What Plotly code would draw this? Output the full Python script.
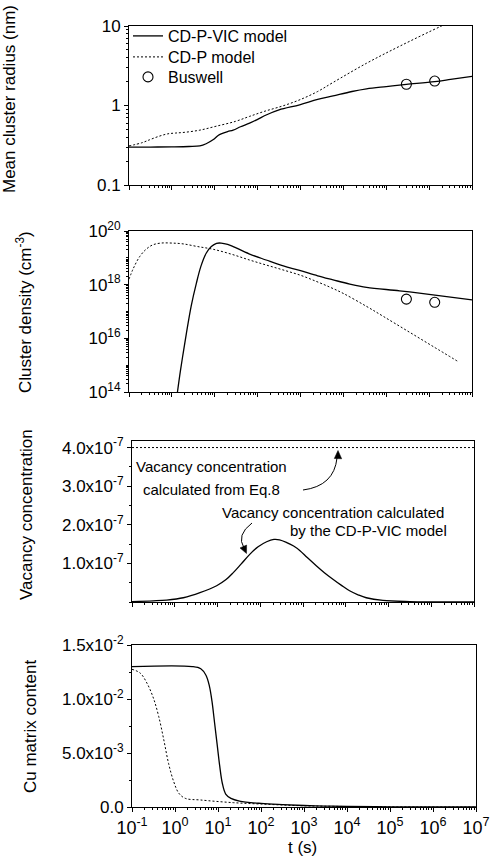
import plotly.graph_objects as go

W, H = 496, 861
FONT = "Liberation Sans, Arial, sans-serif"

# ---------------- data ----------------
# Panel 1: mean cluster radius (nm)
t_r_vic = [0.1, 0.316, 1.0, 2.5, 4.5, 6.3, 9.1, 12.0, 14.1, 20.0, 26.9, 40.0, 65.0, 100.0, 158.0, 316.0,
           955.0, 2512.0, 5754.0, 15850.0, 34670.0, 1.0e5, 2.95e5, 1.35e6, 3.16e6, 1.0e7]
r_vic = [0.300, 0.300, 0.302, 0.305, 0.31, 0.33, 0.37, 0.42, 0.44, 0.47, 0.49, 0.54, 0.60, 0.67, 0.76, 0.88,
         1.02, 1.19, 1.32, 1.50, 1.62, 1.73, 1.84, 2.00, 2.13, 2.33]
t_r_cdp = [0.1, 0.2, 0.3, 0.5, 0.8, 1.2, 2.0, 4.5, 11.0, 30.0, 65.0, 150.0, 390.0, 1000.0, 2512.0,
           5754.0, 34670.0, 2.1e5, 1.95e6, 5.0e6]
r_cdp = [0.31, 0.34, 0.37, 0.41, 0.44, 0.45, 0.46, 0.49, 0.55, 0.63, 0.73, 0.85, 0.99, 1.19, 1.5,
         1.95, 3.4, 5.6, 10.0, 12.5]
t_busw = [2.95e5, 1.35e6]
r_busw = [1.85, 2.03]

# Panel 2: cluster density (cm^-3)
t_n_vic = [1.35, 1.585, 1.86, 2.19, 2.82, 3.72, 4.79, 6.31, 8.32, 11.0, 14.1, 20.0, 26.9, 63.1, 158.0,
           398.0, 955.0, 2512.0, 5754.0, 14125.0, 34674.0, 204174.0, 1.23e6, 1.0e7]
n_vic = [1e14, 6.3e14, 3.2e15, 1.6e16, 1.6e17, 1.12e18, 5.0e18, 1.48e19, 2.63e19, 3.47e19, 3.55e19,
         3.16e19, 2.63e19, 1.41e19, 8.3e18, 5.0e18, 3.4e18, 2.14e18, 1.51e18, 1.05e18, 7.9e17,
         5.9e17, 4.2e17, 2.7e17]
t_n_cdp = [0.1, 0.126, 0.178, 0.251, 0.355, 0.562, 1.0, 1.82, 3.98, 9.12, 25.1, 64.6, 158.0, 389.0,
           1000.0, 2344.0, 5012.0, 10000.0, 34674.0, 85114.0, 309030.0, 1.23e6, 4.68e6]
n_cdp = [1.6e18, 4.0e18, 1.12e19, 2.09e19, 3.02e19, 3.55e19, 3.55e19, 3.31e19, 2.63e19, 2.09e19,
         1.35e19, 8.3e18, 5.4e18, 3.55e18, 2.24e18, 1.32e18, 7.9e17, 4.7e17, 1.55e17, 6.6e16,
         1.9e16, 5.0e15, 1.38e15]
n_busw = [2.9e17, 2.2e17]

# Panel 3: vacancy concentration
t_v = [0.1, 0.316, 0.646, 1.585, 3.89, 9.55, 15.85, 23.4, 35.5, 57.5, 89.1, 141.0, 209.0, 282.0, 417.0,
       603.0, 851.0, 1259.0, 2042.0, 3162.0, 5012.0, 7943.0, 12300.0, 19950.0, 30200.0, 74130.0,
       316000.0, 1.0e6, 1.0e7]
c_v = [0.01e-7, 0.03e-7, 0.05e-7, 0.11e-7, 0.24e-7, 0.42e-7, 0.58e-7, 0.76e-7, 0.98e-7, 1.24e-7,
       1.43e-7, 1.56e-7, 1.62e-7, 1.61e-7, 1.54e-7, 1.45e-7, 1.33e-7, 1.15e-7, 0.94e-7, 0.76e-7,
       0.59e-7, 0.43e-7, 0.29e-7, 0.18e-7, 0.11e-7, 0.04e-7, 0.01e-7, 0.003e-7, 0.0]
t_eq8 = [0.1, 1.0e7]
c_eq8 = [4.0e-7, 4.0e-7]

# Panel 4: Cu matrix content
t_cu_vic = [0.1, 2.5, 3.98, 5.25, 6.31, 7.24, 8.32, 9.55, 10.96, 12.6, 15.1, 20.0, 31.6, 100.0, 316.0,
            1000.0, 3162.0, 10000.0, 1.0e5, 1.0e6, 1.0e7]
cu_vic = [0.0130, 0.0130, 0.0128, 0.0122, 0.0112, 0.0098, 0.0078, 0.0058, 0.0038, 0.0022, 0.0012,
          0.0008, 0.00055, 0.00033, 0.00022, 0.00014, 0.00009, 0.00005, 0.00002, 0.00001, 0.000005]
t_cu_cdp = [0.1, 0.155, 0.224, 0.316, 0.417, 0.55, 0.708, 0.933, 1.23, 1.74, 3.89, 22.9, 138.0,
            813.0, 4898.0, 1.0e5, 1.0e7]
cu_cdp = [0.01275, 0.0124, 0.01145, 0.01006, 0.0084, 0.0062, 0.00404, 0.00235, 0.00127, 0.0008,
          0.00065, 0.0004, 0.00025, 0.00012, 0.00006, 0.00001, 0.0]

x_tickvals = [0.1, 1.0, 10.0, 100.0, 1e3, 1e4, 1e5, 1e6, 1e7]
x_ticktext = ["10<sup>-1</sup>", "10<sup>0</sup>", "10<sup>1</sup>", "10<sup>2</sup>", "10<sup>3</sup>",
              "10<sup>4</sup>", "10<sup>5</sup>", "10<sup>6</sup>", "10<sup>7</sup>"]

# ---------------- figure ----------------
def px_x(p):
    return p / W

def px_y(p):
    return 1 - p / H

doms = {
    1: ((129, 472), (26, 185)),
    2: ((129, 472), (231, 392)),
    3: ((132, 474), (441, 602)),
    4: ((132, 476), (645, 807)),
}

fig = go.Figure()
solid = dict(color="black", width=1.3)
dotted = dict(color="black", width=1, dash="2px,2px")
circ = dict(symbol="circle-open", size=10, color="black", line=dict(width=1.1, color="black"))

fig.add_trace(go.Scatter(x=t_r_vic, y=r_vic, mode="lines", line=solid, name="CD-P-VIC model",
                         line_shape="spline", xaxis="x", yaxis="y", legend="legend"))
fig.add_trace(go.Scatter(x=t_r_cdp, y=r_cdp, mode="lines", line=dotted, name="CD-P model",
                         line_shape="spline", xaxis="x", yaxis="y", legend="legend2"))
fig.add_trace(go.Scatter(x=t_busw, y=r_busw, mode="markers", marker=circ, name="Buswell",
                         xaxis="x", yaxis="y", legend="legend3"))

fig.add_trace(go.Scatter(x=t_n_vic, y=n_vic, mode="lines", line=solid, showlegend=False,
                         line_shape="spline", xaxis="x2", yaxis="y2"))
fig.add_trace(go.Scatter(x=t_n_cdp, y=n_cdp, mode="lines", line=dotted, showlegend=False,
                         line_shape="spline", xaxis="x2", yaxis="y2"))
fig.add_trace(go.Scatter(x=t_busw, y=n_busw, mode="markers", marker=circ, showlegend=False,
                         xaxis="x2", yaxis="y2"))

fig.add_trace(go.Scatter(x=t_eq8, y=c_eq8, mode="lines", line=dotted, showlegend=False,
                         xaxis="x3", yaxis="y3"))
fig.add_trace(go.Scatter(x=t_v, y=c_v, mode="lines", line=solid, showlegend=False,
                         line_shape="spline", xaxis="x3", yaxis="y3"))

fig.add_trace(go.Scatter(x=t_cu_vic, y=cu_vic, mode="lines", line=solid, showlegend=False,
                         line_shape="spline", xaxis="x4", yaxis="y4"))
fig.add_trace(go.Scatter(x=t_cu_cdp, y=cu_cdp, mode="lines", line=dotted, showlegend=False,
                         line_shape="spline", xaxis="x4", yaxis="y4"))

minor_x = [m * 10.0 ** e for e in range(-1, 7) for m in range(2, 10)]
axis_common = dict(showline=True, linecolor="black", linewidth=1, mirror=True, showgrid=False,
                   zeroline=False, ticks="outside", ticklen=4, tickwidth=1, tickcolor="black",
                   tickfont=dict(family=FONT, size=17, color="black"), automargin=False)

layout = dict(width=W, height=H, margin=dict(l=0, r=0, t=0, b=0),
              paper_bgcolor="white", plot_bgcolor="white",
              font=dict(family=FONT, color="black"))

for i in range(1, 5):
    (xa, xb), (ya, yb) = doms[i]
    xk = "xaxis" if i == 1 else f"xaxis{i}"
    yk = "yaxis" if i == 1 else f"yaxis{i}"
    xax = dict(axis_common, type="log", range=[-1, 7], domain=[px_x(xa), px_x(xb)],
               anchor="y" if i == 1 else f"y{i}", tickmode="array", tickvals=x_tickvals,
               ticktext=x_ticktext, showticklabels=(i == 4),
               minor=dict(tickvals=minor_x, ticks="outside", ticklen=2, tickcolor="black"))
    xax["tickfont"] = dict(family=FONT, size=18, color="black")
    layout[xk] = xax
    layout[yk] = dict(axis_common, domain=[px_y(yb), px_y(ya)], anchor="x" if i == 1 else f"x{i}")

minor_y1 = [m * 10.0 ** e for e in range(-1, 1) for m in range(2, 10)]
layout["yaxis"].update(type="log", range=[-1, 1], tickmode="array", tickvals=[0.1, 1.0, 10.0],
                       ticktext=["0.1", "1", "10"],
                       minor=dict(tickvals=minor_y1, ticks="outside", ticklen=2, tickcolor="black"))
minor_y2 = [m * 10.0 ** e for e in range(14, 20) for m in range(2, 11)]
layout["yaxis2"].update(type="log", range=[14, 20], tickmode="array",
                        tickvals=[1e14, 1e16, 1e18, 1e20],
                        ticktext=["10<sup>14</sup>", "10<sup>16</sup>", "10<sup>18</sup>", "10<sup>20</sup>"],
                        minor=dict(tickvals=minor_y2, ticks="outside", ticklen=2, tickcolor="black"))
layout["yaxis3"].update(range=[0, 4.17e-7], tickmode="array",
                        tickvals=[1e-7, 2e-7, 3e-7, 4e-7],
                        ticktext=["1.0x10<sup>-7</sup>", "2.0x10<sup>-7</sup>", "3.0x10<sup>-7</sup>",
                                  "4.0x10<sup>-7</sup>"],
                        minor=dict(dtick=0.5e-7, ticks="outside", ticklen=2, tickcolor="black"))
layout["yaxis4"].update(range=[0, 0.015], tickmode="array", tickvals=[0, 0.005, 0.01, 0.015],
                        ticktext=["0.0", "5.0x10<sup>-3</sup>", "1.0x10<sup>-2</sup>", "1.5x10<sup>-2</sup>"],
                        minor=dict(dtick=0.0025, ticks="outside", ticklen=2, tickcolor="black"))

lfont = dict(family=FONT, size=16, color="black")
for key, row in (("legend", 36), ("legend2", 57), ("legend3", 77)):
    layout[key] = dict(x=px_x(128), y=px_y(row), xanchor="left", yanchor="middle",
                       bgcolor="rgba(0,0,0,0)", font=lfont, itemwidth=30)
fig.update_layout(**layout)

# y-axis titles
ytitles = [("Mean cluster radius (nm)", 10, 99), ("Cluster density (cm<sup>-3</sup>)", 24, 312),
           ("Vacancy concentration", 26, 515), ("Cu matrix content", 30, 727)]
for txt, xp, yp in ytitles:
    fig.add_annotation(text=txt, xref="paper", yref="paper", x=px_x(xp), y=px_y(yp), showarrow=False,
                       textangle=-90, xanchor="center", yanchor="middle",
                       font=dict(family=FONT, size=17, color="black"))
fig.add_annotation(text="t (s)", xref="paper", yref="paper", x=px_x(302), y=px_y(847), showarrow=False,
                   xanchor="center", yanchor="middle", font=dict(family=FONT, size=17, color="black"))

# panel 3 annotations
afont = dict(family=FONT, size=15, color="black")
fig.add_annotation(text="Vacancy concentration", xref="paper", yref="paper", x=px_x(211), y=px_y(466),
                   showarrow=False, xanchor="center", yanchor="middle", font=afont)
fig.add_annotation(text="calculated from Eq.8", xref="paper", yref="paper", x=px_x(211), y=px_y(489),
                   showarrow=False, xanchor="center", yanchor="middle", font=afont)
fig.add_annotation(text="Vacancy concentration calculated", xref="paper", yref="paper", x=px_x(446),
                   y=px_y(512), showarrow=False, xanchor="right", yanchor="middle", font=afont)
fig.add_annotation(text="by the CD-P-VIC model", xref="paper", yref="paper", x=px_x(449), y=px_y(530),
                   showarrow=False, xanchor="right", yanchor="middle", font=afont)

def pth(pts):
    (x0, y0), (cx, cy), (x1, y1) = pts
    return f"M {px_x(x0)},{px_y(y0)} Q {px_x(cx)},{px_y(cy)} {px_x(x1)},{px_y(y1)}"

def tri(pts):
    (a, b), (c, d), (e, f) = pts
    return f"M {px_x(a)},{px_y(b)} L {px_x(c)},{px_y(d)} L {px_x(e)},{px_y(f)} Z"

fig.add_shape(type="path", xref="paper", yref="paper", path=pth([(303, 490), (334, 486), (337, 458)]),
              line=dict(color="black", width=1))
fig.add_shape(type="path", xref="paper", yref="paper", path=pth([(252, 523), (236, 535), (244, 548)]),
              line=dict(color="black", width=1))
fig.add_shape(type="path", xref="paper", yref="paper",
              path=tri([(338, 450.5), (334.3, 458.5), (341.7, 458.8)]),
              line=dict(color="black", width=0.5), fillcolor="black")
fig.add_shape(type="path", xref="paper", yref="paper",
              path=tri([(246.5, 553.5), (246.6, 545.0), (240.0, 547.9)]),
              line=dict(color="black", width=0.5), fillcolor="black")

fig.write_html("out.html")
